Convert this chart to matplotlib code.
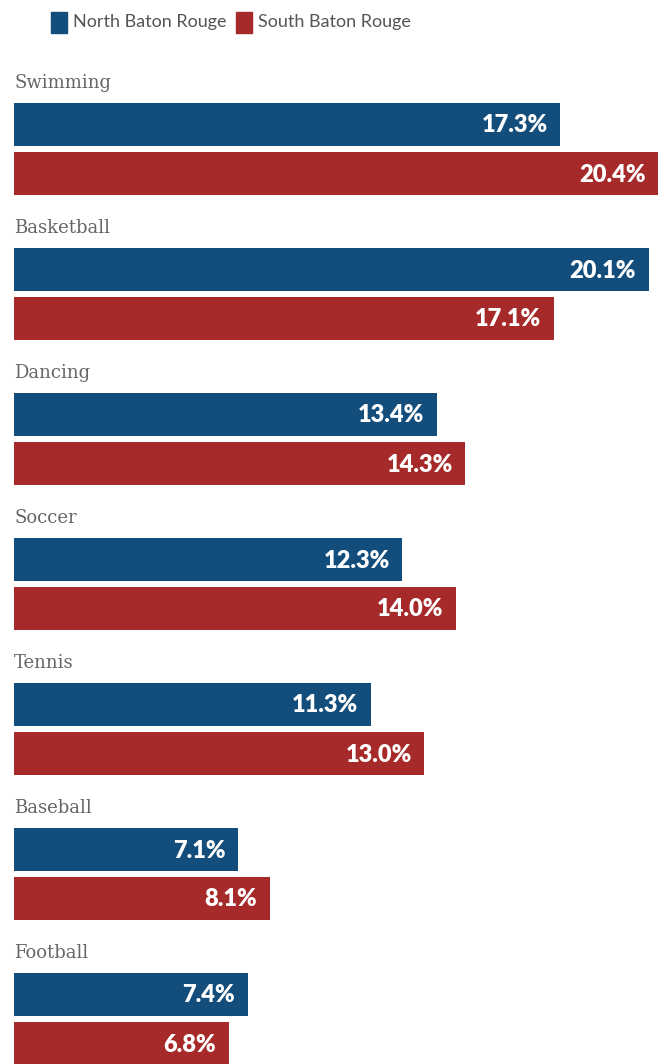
import matplotlib
matplotlib.use("Agg")
import matplotlib.pyplot as plt
from matplotlib.patches import Rectangle

sports = ["Swimming", "Basketball", "Dancing", "Soccer", "Tennis", "Baseball", "Football"]
north = [17.3, 20.1, 13.4, 12.3, 11.3, 7.1, 7.4]
south = [20.4, 17.1, 14.3, 14.0, 13.0, 8.1, 6.8]
series_names = ["North Baton Rouge", "South Baton Rouge"]

BLUE = "#124d7c"
RED = "#a52a29"

W, H = 662, 1064
fig = plt.figure(figsize=(W / 100, H / 100), dpi=100)
ax = fig.add_axes([0, 0, 1, 1])

# x in percent, y in pixels from the top
px = 31.57  # pixels per percentage point
left = 14
ax.set_xlim(-left / px, (W - left) / px)
ax.set_ylim(H, 0)
ax.axis("off")

group_step = 145
bar_h = 43
for i, name in enumerate(sports):
    y0 = 82 + group_step * i
    ax.text(0, y0 + 1, name, fontsize=13, family="DejaVu Serif", color="#666666",
            ha="left", va="center")
    for j, (vals, col) in enumerate([(north, BLUE), (south, RED)]):
        yc = y0 + 42.5 + j * 49
        v = vals[i]
        ax.barh(yc, v, height=bar_h, left=0, color=col, edgecolor="none")
        ax.text(v - 12.7 / px, yc + 1, f"{v:.1f}%", fontsize=17, family="Lato",
                fontweight="heavy", color="white", ha="right", va="center")

# legend
for x0, name, col in [(51, series_names[0], BLUE), (236, series_names[1], RED)]:
    fig.patches.append(Rectangle((x0 / W, 1 - 33 / H), 16 / W, 21 / H,
                                 transform=fig.transFigure, color=col))
    fig.text((x0 + 22) / W, 1 - 22 / H, name, fontsize=13, family="Lato",
             color="#555555", ha="left", va="center")

fig.savefig("out.png", dpi=100)
